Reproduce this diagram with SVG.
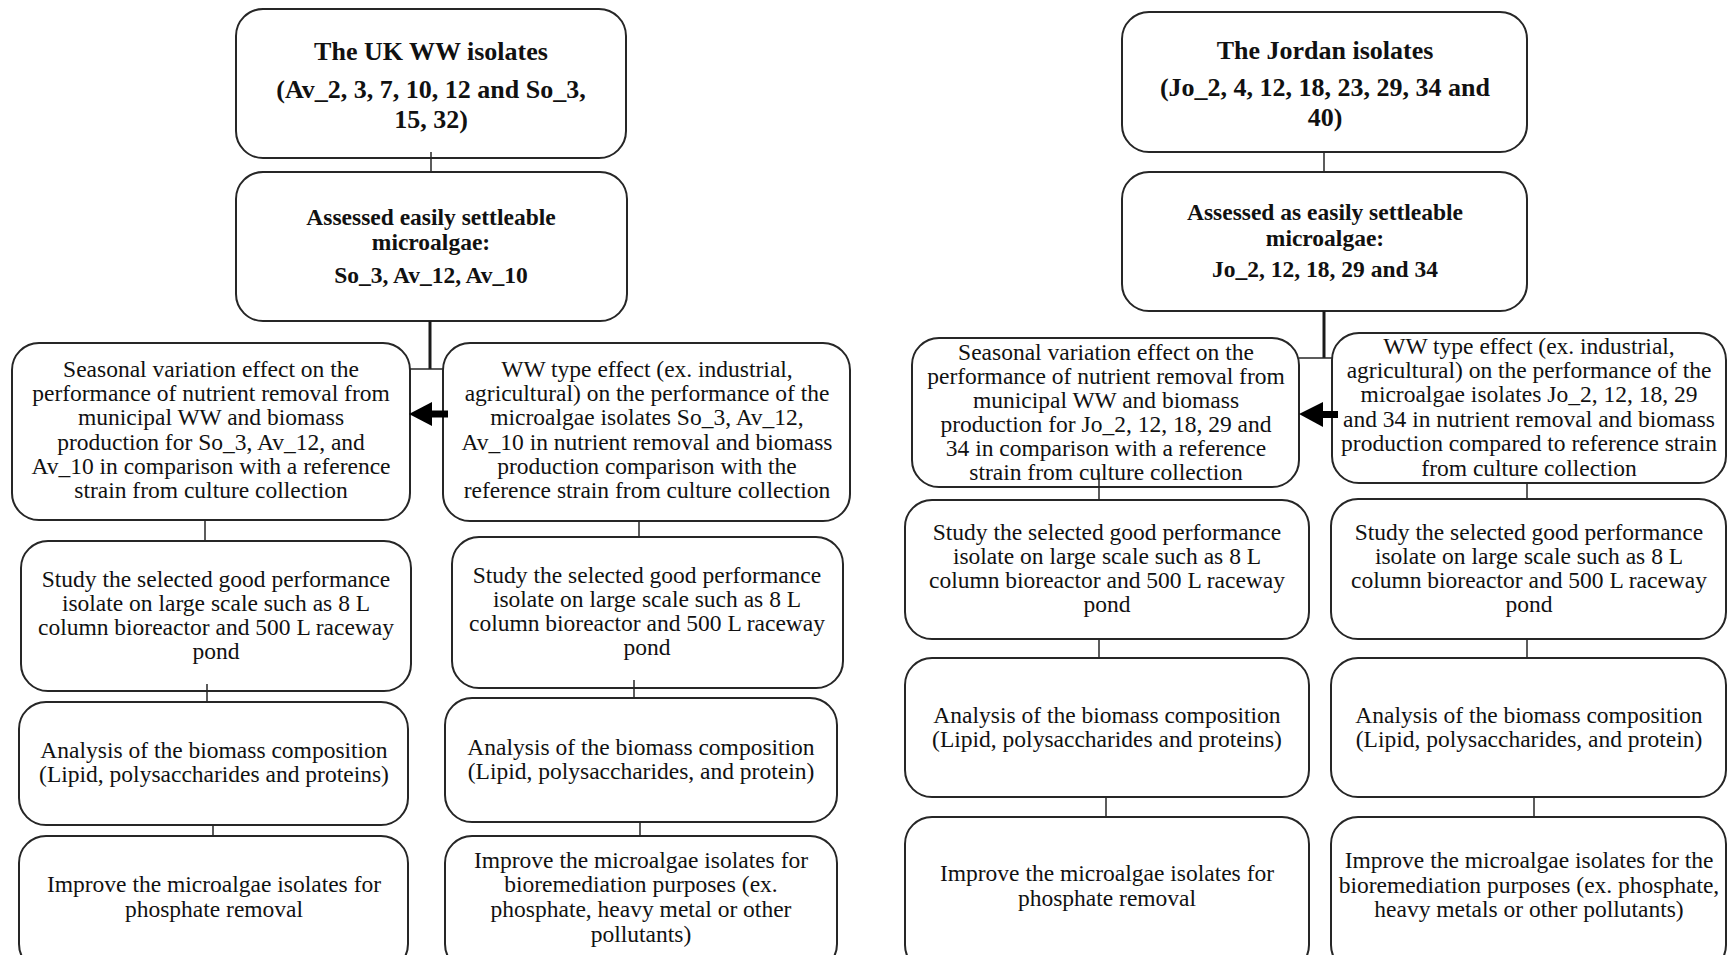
<svg xmlns="http://www.w3.org/2000/svg" width="1728" height="955" viewBox="0 0 1728 955">
<style>
.box{fill:#fff;stroke:#262626;stroke-width:2}
.t{font-family:"Liberation Serif","Times New Roman",serif;font-size:23.5px;fill:#111;text-anchor:middle}
.b{font-weight:bold}
.h{font-size:26px}
.c{stroke:#262626;stroke-width:1.5;fill:none}
.ct{stroke:#1a1a1a;stroke-width:3;fill:none}
.ar{fill:#000}
</style>
<rect width="1728" height="955" fill="#fff"/>

<g id="uk-isolates">
<rect class="box" x="236" y="9" width="390" height="149" rx="27"/>
<text class="t b"><tspan class="h" x="431" y="60">The UK WW isolates</tspan><tspan class="h" x="431" y="98">(Av_2, 3, 7, 10, 12 and So_3,</tspan><tspan class="h" x="431" y="128">15, 32)</tspan></text>
</g>
<g id="uk-settleable">
<rect class="box" x="236" y="172" width="391" height="149" rx="27"/>
<text class="t b"><tspan x="431" y="225">Assessed easily settleable</tspan><tspan x="431" y="250">microalgae:</tspan><tspan x="431" y="283">So_3, Av_12, Av_10</tspan></text>
</g>
<g id="uk-seasonal">
<rect class="box" x="12" y="343" width="398" height="177" rx="27"/>
<text class="t"><tspan x="211" y="377">Seasonal variation effect on the</tspan><tspan x="211" y="401">performance of nutrient removal from</tspan><tspan x="211" y="425">municipal WW and biomass</tspan><tspan x="211" y="450">production for So_3, Av_12, and</tspan><tspan x="211" y="474">Av_10 in comparison with a reference</tspan><tspan x="211" y="498">strain from culture collection</tspan></text>
</g>
<g id="uk-wwtype">
<rect class="box" x="443" y="343" width="407" height="178" rx="27"/>
<text class="t"><tspan x="647" y="377">WW type effect (ex. industrial,</tspan><tspan x="647" y="401">agricultural) on the performance of the</tspan><tspan x="647" y="425">microalgae isolates So_3, Av_12,</tspan><tspan x="647" y="450">Av_10 in nutrient removal and biomass</tspan><tspan x="647" y="474">production comparison with the</tspan><tspan x="647" y="498">reference strain from culture collection</tspan></text>
</g>
<g id="uk-study-1">
<rect class="box" x="21" y="541" width="390" height="150" rx="27"/>
<text class="t"><tspan x="216" y="587">Study the selected good performance</tspan><tspan x="216" y="611">isolate on large scale such as 8 L</tspan><tspan x="216" y="635">column bioreactor and 500 L raceway</tspan><tspan x="216" y="659">pond</tspan></text>
</g>
<g id="uk-study-2">
<rect class="box" x="452" y="537" width="391" height="151" rx="27"/>
<text class="t"><tspan x="647" y="583">Study the selected good performance</tspan><tspan x="647" y="607">isolate on large scale such as 8 L</tspan><tspan x="647" y="631">column bioreactor and 500 L raceway</tspan><tspan x="647" y="655">pond</tspan></text>
</g>
<g id="uk-analysis-1">
<rect class="box" x="19" y="702" width="389" height="123" rx="27"/>
<text class="t"><tspan x="214" y="758">Analysis of the biomass composition</tspan><tspan x="214" y="782">(Lipid, polysaccharides and proteins)</tspan></text>
</g>
<g id="uk-analysis-2">
<rect class="box" x="445" y="698" width="392" height="124" rx="27"/>
<text class="t"><tspan x="641" y="755">Analysis of the biomass composition</tspan><tspan x="641" y="779">(Lipid, polysaccharides, and protein)</tspan></text>
</g>
<g id="uk-improve-1">
<rect class="box" x="19" y="836" width="389" height="135" rx="27"/>
<text class="t"><tspan x="214" y="892">Improve the microalgae isolates for</tspan><tspan x="214" y="917">phosphate removal</tspan></text>
</g>
<g id="uk-improve-2">
<rect class="box" x="445" y="836" width="392" height="135" rx="27"/>
<text class="t"><tspan x="641" y="868">Improve the microalgae isolates for</tspan><tspan x="641" y="892">bioremediation purposes (ex.</tspan><tspan x="641" y="917">phosphate, heavy metal or other</tspan><tspan x="641" y="942">pollutants)</tspan></text>
</g>

<g id="jo-isolates">
<rect class="box" x="1122" y="12" width="405" height="140" rx="27"/>
<text class="t b"><tspan class="h" x="1325" y="59">The Jordan isolates</tspan><tspan class="h" x="1325" y="96">(Jo_2, 4, 12, 18, 23, 29, 34 and</tspan><tspan class="h" x="1325" y="126">40)</tspan></text>
</g>
<g id="jo-settleable">
<rect class="box" x="1122" y="172" width="405" height="139" rx="27"/>
<text class="t b"><tspan x="1325" y="220">Assessed as easily settleable</tspan><tspan x="1325" y="246">microalgae:</tspan><tspan x="1325" y="277">Jo_2, 12, 18, 29 and 34</tspan></text>
</g>
<g id="jo-seasonal">
<rect class="box" x="912" y="338" width="387" height="149" rx="27"/>
<text class="t"><tspan x="1106" y="360">Seasonal variation effect on the</tspan><tspan x="1106" y="384">performance of nutrient removal from</tspan><tspan x="1106" y="408">municipal WW and biomass</tspan><tspan x="1106" y="432">production for Jo_2, 12, 18, 29 and</tspan><tspan x="1106" y="456">34 in comparison with a reference</tspan><tspan x="1106" y="480">strain from culture collection</tspan></text>
</g>
<g id="jo-wwtype">
<rect class="box" x="1332" y="333" width="394" height="150" rx="27"/>
<text class="t"><tspan x="1529" y="354">WW type effect (ex. industrial,</tspan><tspan x="1529" y="378">agricultural) on the performance of the</tspan><tspan x="1529" y="402">microalgae isolates Jo_2, 12, 18, 29</tspan><tspan x="1529" y="427">and 34 in nutrient removal and biomass</tspan><tspan x="1529" y="451">production compared to reference strain</tspan><tspan x="1529" y="476">from culture collection</tspan></text>
</g>
<g id="jo-study-1">
<rect class="box" x="905" y="500" width="404" height="139" rx="27"/>
<text class="t"><tspan x="1107" y="540">Study the selected good performance</tspan><tspan x="1107" y="564">isolate on large scale such as 8 L</tspan><tspan x="1107" y="588">column bioreactor and 500 L raceway</tspan><tspan x="1107" y="612">pond</tspan></text>
</g>
<g id="jo-study-2">
<rect class="box" x="1331" y="499" width="395" height="140" rx="27"/>
<text class="t"><tspan x="1529" y="540">Study the selected good performance</tspan><tspan x="1529" y="564">isolate on large scale such as 8 L</tspan><tspan x="1529" y="588">column bioreactor and 500 L raceway</tspan><tspan x="1529" y="612">pond</tspan></text>
</g>
<g id="jo-analysis-1">
<rect class="box" x="905" y="658" width="404" height="139" rx="27"/>
<text class="t"><tspan x="1107" y="723">Analysis of the biomass composition</tspan><tspan x="1107" y="747">(Lipid, polysaccharides and proteins)</tspan></text>
</g>
<g id="jo-analysis-2">
<rect class="box" x="1331" y="658" width="395" height="139" rx="27"/>
<text class="t"><tspan x="1529" y="723">Analysis of the biomass composition</tspan><tspan x="1529" y="747">(Lipid, polysaccharides, and protein)</tspan></text>
</g>
<g id="jo-improve-1">
<rect class="box" x="905" y="817" width="404" height="155" rx="27"/>
<text class="t"><tspan x="1107" y="881">Improve the microalgae isolates for</tspan><tspan x="1107" y="906">phosphate removal</tspan></text>
</g>
<g id="jo-improve-2">
<rect class="box" x="1331" y="817" width="395" height="155" rx="27"/>
<text class="t"><tspan x="1529" y="868">Improve the microalgae isolates for the</tspan><tspan x="1529" y="893">bioremediation purposes (ex. phosphate,</tspan><tspan x="1529" y="917">heavy metals or other pollutants)</tspan></text>
</g>

<g id="connectors">
<line class="c" x1="431" y1="152" x2="431" y2="172"/>
<line class="ct" x1="430" y1="321" x2="430" y2="369"/>
<line class="c" x1="410" y1="369" x2="443" y2="369"/>
<line class="c" x1="205" y1="520" x2="205" y2="541"/>
<line class="c" x1="207" y1="684" x2="207" y2="702"/>
<line class="c" x1="213" y1="825" x2="213" y2="836"/>
<line class="c" x1="639" y1="521" x2="639" y2="537"/>
<line class="c" x1="634" y1="680" x2="634" y2="698"/>
<line class="c" x1="640" y1="822" x2="640" y2="836"/>
<polygon class="ar" points="409,414 432,402 432,426"/>
<rect class="ar" x="431" y="410.5" width="17" height="7"/>

<line class="c" x1="1324" y1="152" x2="1324" y2="172"/>
<line class="ct" x1="1324" y1="311" x2="1324" y2="358"/>
<line class="c" x1="1299" y1="358" x2="1332" y2="358"/>
<line class="c" x1="1099" y1="473" x2="1099" y2="500"/>
<line class="c" x1="1099" y1="639" x2="1099" y2="658"/>
<line class="c" x1="1106" y1="797" x2="1106" y2="817"/>
<line class="c" x1="1527" y1="483" x2="1527" y2="499"/>
<line class="c" x1="1527" y1="639" x2="1527" y2="658"/>
<line class="c" x1="1534" y1="797" x2="1534" y2="817"/>
<polygon class="ar" points="1299,414 1323,402 1323,427"/>
<rect class="ar" x="1322" y="411" width="16" height="7"/>
</g>
</svg>
